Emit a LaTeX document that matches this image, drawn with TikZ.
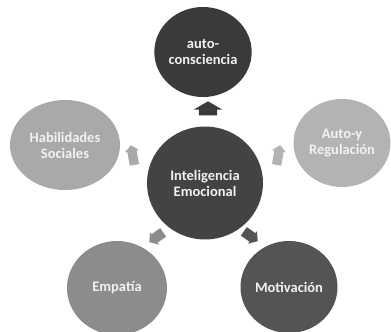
\documentclass[tikz,border=0pt]{standalone}
\usepackage{fontspec}
\setmainfont{Carlito}
\usetikzlibrary{shapes.geometric,shapes.arrows}
\definecolor{cdark}{HTML}{3A3A3A}
\definecolor{ccenter}{HTML}{434343}
\definecolor{cleft}{HTML}{A9A9A9}
\definecolor{cright}{HTML}{B3B3B3}
\definecolor{cemp}{HTML}{8C8C8C}
\definecolor{cmot}{HTML}{545454}
\tikzset{
  bubble/.style={ellipse, inner sep=0pt, text=white!90!gray, align=center, font=\fontsize{14.5}{16}\selectfont\bfseries},
  blockarrow/.style={single arrow, draw=none, inner xsep=0pt, inner ysep=4.5pt, minimum height=20pt, minimum width=14pt, single arrow head extend=2.5pt, single arrow tip angle=100}
}
\begin{document}
\begin{tikzpicture}[x=1pt,y=-1pt]
\useasboundingbox (0,0) rectangle (391,332);
\node[bubble, fill=cdark, minimum width=94pt, minimum height=90pt] (top) at (203,52) {auto-\\consciencia};
\node[bubble, fill=ccenter, minimum width=116pt, minimum height=113pt] (center) at (205,183) {Inteligencia\\Emocional};
\node[bubble, fill=cleft, minimum width=110pt, minimum height=90pt] (left) at (65,145) {Habilidades\\Sociales};
\node[bubble, fill=cright, minimum width=97pt, minimum height=88pt] (right) at (342,143) {Auto-y\\Regulación};
\node[bubble, fill=cemp, minimum width=100pt, minimum height=94pt] (emp) at (117,288) {Empatía};
\node[bubble, fill=cmot, minimum width=97pt, minimum height=92pt] (mot) at (289,287) {Motivación};
\node[blockarrow, fill=cdark, rotate=90, inner ysep=9pt, minimum width=28pt, single arrow head extend=5pt, single arrow tip angle=120, minimum height=14pt] (atop) at (208,111) {};
\node[blockarrow, fill=cleft, rotate=100] (aleft) at (133,157) {};
\node[blockarrow, fill=cright, rotate=80] (aright) at (278,157) {};
\node[blockarrow, fill=cemp, rotate=215, minimum height=17pt, minimum width=15pt, inner ysep=5pt] (aemp) at (158,236) {};
\node[blockarrow, fill=cmot, rotate=325, minimum height=17pt, minimum width=15pt, inner ysep=5pt] (amot) at (249,235) {};
\end{tikzpicture}
\end{document}
